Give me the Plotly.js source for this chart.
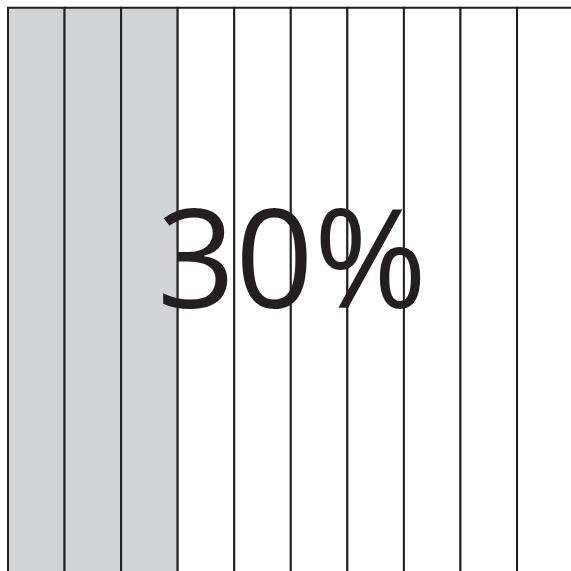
<!DOCTYPE html>
<html>
<head>
<meta charset="utf-8">
<script src="https://cdn.plot.ly/plotly-3.0.1.min.js"></script>
<style>html,body{margin:0;padding:0;background:#fff;}#chart{width:571px;height:571px;}</style>
</head>
<body>
<div id="chart"></div>
<script>
var columns = [1, 2, 3, 4, 5, 6, 7, 8, 9, 10];
var shadedCount = 3;
var totalCount = 10;
var label = "30%";

var heights = columns.map(function(){ return 1; });
var colors = columns.map(function(c){ return c <= shadedCount ? "#d1d3d4" : "#ffffff"; });

var trace = {
  type: "bar",
  x: columns,
  y: heights,
  width: 1,
  marker: { color: colors, line: { color: "#231f20", width: 2 } },
  hoverinfo: "skip"
};

var layout = {
  width: 571, height: 571,
  margin: { l: 0, r: 0, t: 0, b: 0 },
  paper_bgcolor: "#ffffff",
  plot_bgcolor: "#ffffff",
  showlegend: false,
  bargap: 0,
  xaxis: { range: [0.3586, 10.454], visible: false, fixedrange: true },
  yaxis: { range: [0.01, 1.0135], visible: false, fixedrange: true },
  annotations: [{
    text: label,
    xref: "paper", yref: "paper",
    x: 0.512, y: 0.553,
    xanchor: "center", yanchor: "middle",
    showarrow: false,
    font: { family: "Open Sans", size: 137, color: "#231f20" }
  }]
};

Plotly.newPlot("chart", [trace], layout, { staticPlot: true, displayModeBar: false });
</script>
</body>
</html>
